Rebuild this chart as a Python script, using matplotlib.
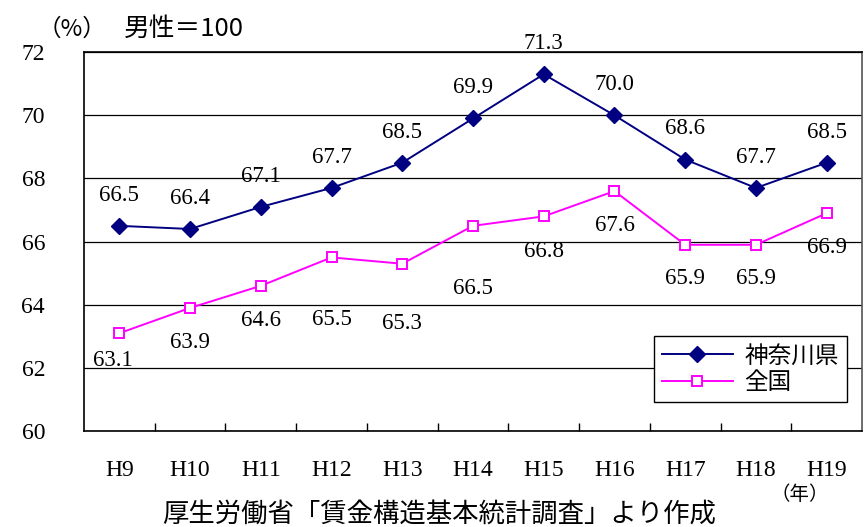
import matplotlib.pyplot as plt
import numpy as np

# 女性の所定内給与額（男性＝100）
years = ['H9', 'H10', 'H11', 'H12', 'H13', 'H14', 'H15', 'H16', 'H17', 'H18', 'H19']
kanagawa = [66.5, 66.4, 67.1, 67.7, 68.5, 69.9, 71.3, 70.0, 68.6, 67.7, 68.5]
zenkoku = [63.1, 63.9, 64.6, 65.5, 65.3, 66.5, 66.8, 67.6, 65.9, 65.9, 66.9]

# データラベルのずらし量（pt）
kana_off = [(0, 22)] * 11
zen_off = [(-5, -20), (0, -25), (0, -25), (0, -45), (0, -43), (0, -45),
           (0, -25), (0, -25), (0, -24), (0, -24), (0, -25)]

num_font = 'Liberation Serif'
jp_font = ['Noto Sans CJK JP', 'DejaVu Sans']

fig = plt.figure(figsize=(8.64, 5.27), dpi=100)
ax = fig.add_axes([0.0972, 0.182, 0.9005, 0.719])

x = np.arange(len(years))
ax.plot(x, kanagawa, color='#000080', lw=1.4, marker='D', ms=8,
        mfc='#000080', mec='#000080', label='神奈川県', zorder=3)
ax.plot(x, zenkoku, color='#FF00FF', lw=1.4, marker='s', ms=7.5,
        mfc='white', mec='#FF00FF', mew=1.4, label='全国', zorder=3)

for i, v in enumerate(kanagawa):
    ax.annotate(f'{v:.1f}', (x[i], v), xytext=kana_off[i], textcoords='offset points',
                ha='center', va='center', fontsize=16.5, family=num_font)
for i, v in enumerate(zenkoku):
    ax.annotate(f'{v:.1f}', (x[i], v), xytext=zen_off[i], textcoords='offset points',
                ha='center', va='center', fontsize=16.5, family=num_font)

ax.set_xlim(-0.5, len(years) - 0.5)
ax.set_ylim(60, 72)
ax.set_yticks(np.arange(60, 73, 2))
ax.set_yticklabels([str(t) for t in range(60, 73, 2)], family=num_font, fontsize=17)
ax.set_xticks(x)
ax.set_xticklabels(years, family=num_font, fontsize=17)
ax.set_xticks(np.arange(0.5, len(years) - 0.5, 1), minor=True)
ax.tick_params(axis='y', length=0, pad=28)
ax.tick_params(axis='x', which='major', length=0, pad=21)
ax.tick_params(axis='x', which='minor', direction='in', length=6, width=1, color='black')
ax.grid(axis='y', color='black', lw=0.9)
ax.set_axisbelow(True)
for s in ax.spines.values():
    s.set_color('black')
    s.set_linewidth(1.2)
ax.spines['right'].set_color('#555555')

leg = ax.legend(loc='lower right', bbox_to_anchor=(0.981, 0.076), borderaxespad=0,
                prop={'family': jp_font, 'size': 17},
                fancybox=False, edgecolor='black', framealpha=1, handlelength=3.0,
                borderpad=0.35, labelspacing=0.15, handletextpad=0.5)
leg.get_frame().set_linewidth(1.0)

# 単位
fig.text(0.044, 0.945, '（%）', family=jp_font, fontsize=17, va='center')
fig.text(0.143, 0.945, '男性＝100', family=jp_font, fontsize=18.5, va='center')
fig.text(0.508, 0.025, '厚生労働省「賃金構造基本統計調査」より作成', family=jp_font,
         fontsize=19, ha='center', va='center')
fig.text(0.926, 0.062, '（年）', family=jp_font, fontsize=14, ha='center', va='center')

fig.savefig('out.png', dpi=100)
